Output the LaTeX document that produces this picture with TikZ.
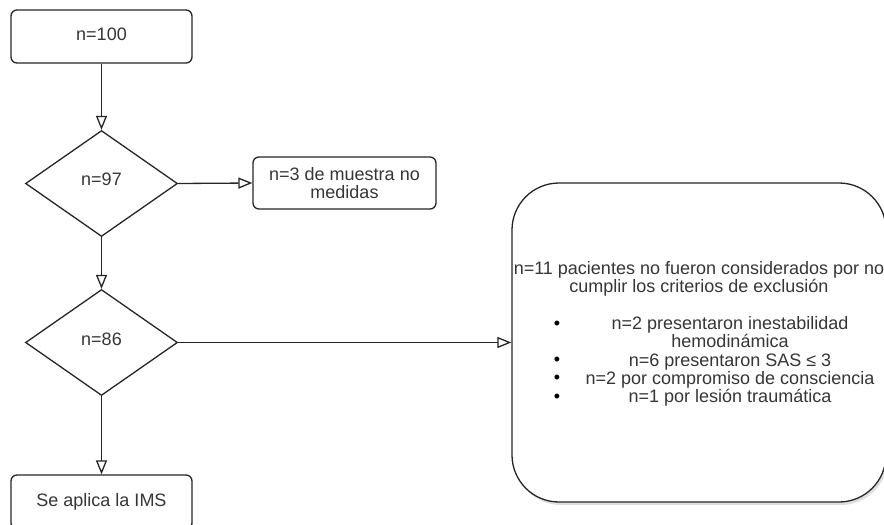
\documentclass[tikz,border=0pt]{standalone}
\usepackage{fontspec}
\setmainfont{Liberation Sans}
\usetikzlibrary{arrows.meta,shapes.geometric,shadows}
\definecolor{linec}{HTML}{262626}
\definecolor{textc}{HTML}{363636}
\begin{document}
\begin{tikzpicture}[x=1pt,y=-1pt,
  every node/.style={font=\fontsize{18}{18.2}\selectfont, text=textc},
  box/.style={draw=linec, line width=1.3pt, rounded corners=6pt, inner sep=0pt},
  dia/.style={draw=linec, line width=1.3pt, diamond, inner sep=0pt, minimum width=152pt, minimum height=106pt},
  conn/.style={draw=linec, line width=1.3pt, -{Triangle[open, length=14pt, width=11pt]}},
  txt/.style={inner sep=0pt, align=center},
  bul/.style={inner sep=0pt, text=black}]
\useasboundingbox[fill=white] (0,0) rectangle (884,525);

\node[box, minimum width=181pt, minimum height=53pt, text depth=4pt] (b100) at (101.5,36.5) {n=100};
\node[dia] (d97) at (101.5,183.5) {};
\node[txt] (t97) at (101.5,179.5) {n=97};
\node[box, minimum width=183pt, minimum height=52pt, align=center] (b3) at (344.5,183) {n=3 de muestra no\\medidas};
\node[dia] (d86) at (101.5,342.5) {};
\node[txt] (t86) at (101.5,339) {n=86};
\node[box, minimum width=181pt, minimum height=54pt, text depth=4pt] (bims) at (101.5,502) {Se aplica la IMS};

\node[draw=linec, line width=1.3pt, rounded corners=47pt, minimum width=374pt, minimum height=319pt,
      drop shadow={shadow xshift=2pt, shadow yshift=-3pt, opacity=0.25}, fill=white] (big) at (699,342.5) {};

\node[txt] (t0) at (699,279) {n=11 pacientes no fueron considerados por no\\cumplir los criterios de exclusión};
\node[txt] (items) at (730,361.5) {n=2 presentaron inestabilidad\\hemodinámica\\n=6 presentaron SAS ≤ 3\\n=2 por compromiso de consciencia\\n=1 por lesión traumática};
\node[bul] (p1) at (557,325) {•};
\node[bul] (p2) at (557,361) {•};
\node[bul] (p3) at (557,379.5) {•};
\node[bul] (p4) at (557,398) {•};

\draw[conn] (b100.south) -- (d97.north);
\draw[conn] (d97.east) -- (b3.west);
\draw[conn] (d97.south) -- (d86.north);
\draw[conn] (d86.east) -- (big.west |- d86.east);
\draw[conn] (d86.south) -- (bims.north);
\end{tikzpicture}
\end{document}
